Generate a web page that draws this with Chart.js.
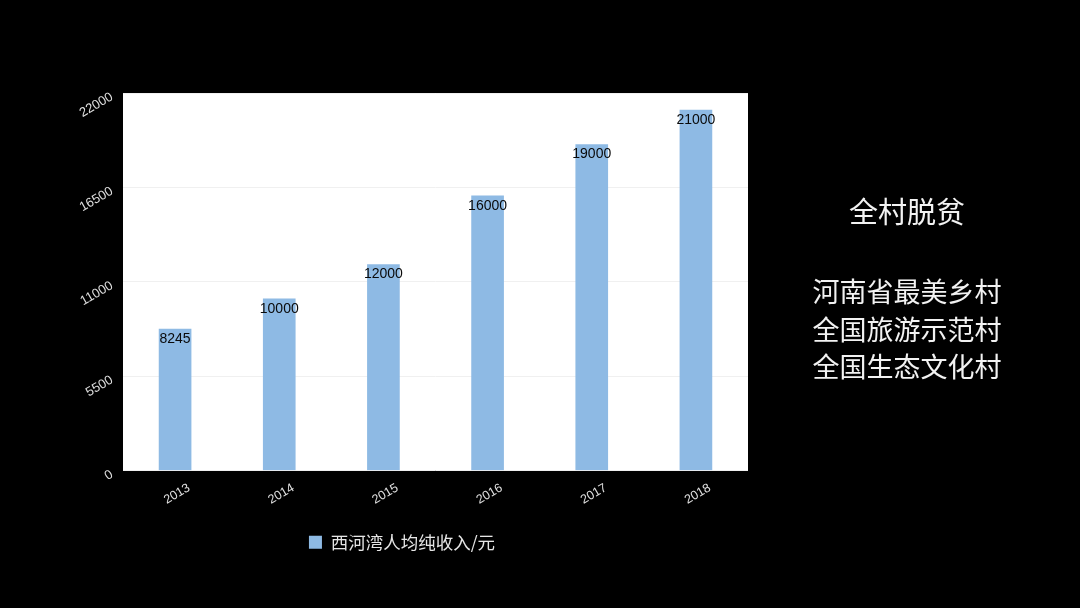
<!DOCTYPE html>
<html>
<head>
<meta charset="utf-8">
<script src="https://cdn.jsdelivr.net/npm/chart.js@4/dist/chart.umd.min.js"></script>
<style>
    html, body { margin: 0; padding: 0; background: #000; width: 1080px; height: 608px; overflow: hidden; }
    #wrap { position: absolute; left: 0; top: 0; width: 804px; height: 608px; }
    .side { position: absolute; left: 790px; width: 234px; text-align: center; color: #f2f2f2;
            font-family: "Noto Sans CJK SC", sans-serif; }
    #title { top: 191px; font-size: 29px; line-height: 38px; }
    #lines { top: 272px; font-size: 27px; line-height: 37.5px; }
</style>
</head>
<body>
<div id="wrap"><canvas id="incomeChart" width="804" height="608"></canvas></div>
<div class="side" id="title">全村脱贫</div>
<div class="side" id="lines">河南省最美乡村<br>全国旅游示范村<br>全国生态文化村</div>
<script>
    // chart data
    var years = ['2013', '2014', '2015', '2016', '2017', '2018'];
    var incomes = [8245, 10000, 12000, 16000, 19000, 21000];
    var yTicks = [0, 5500, 11000, 16500, 22000];
    var seriesName = '西河湾人均纯收入/元';

    // white plot background only inside the chart area
    var plotBg = {
        id: 'plotBg',
        beforeDraw: function(chart) {
            var a = chart.chartArea, ctx = chart.ctx;
            ctx.save();
            ctx.fillStyle = '#ffffff';
            ctx.fillRect(a.left, a.top, a.right - a.left, a.bottom - a.top);
            ctx.restore();
        }
    };

    // value labels at the top of each bar
    var valueLabels = {
        id: 'valueLabels',
        afterDatasetsDraw: function(chart) {
            var ctx = chart.ctx;
            var meta = chart.getDatasetMeta(0);
            ctx.save();
            ctx.font = '14px "Liberation Sans", Arial, sans-serif';
            ctx.fillStyle = '#0a0a0a';
            ctx.textAlign = 'center';
            ctx.textBaseline = 'top';
            meta.data.forEach(function(bar, i) {
                ctx.fillText(String(incomes[i]), bar.x, bar.y + 3);
            });
            ctx.restore();
        }
    };

    var ctx = document.getElementById('incomeChart').getContext('2d');
    new Chart(ctx, {
        type: 'bar',
        data: {
            labels: years,
            datasets: [{
                label: seriesName,
                data: incomes,
                backgroundColor: 'rgb(142,186,228)',
                barThickness: 32
            }]
        },
        options: {
            responsive: false,
            animation: false,
            devicePixelRatio: 1,
            // left padding keeps the legend centred where the reference has it
            layout: { padding: { top: 93, right: 56, left: 56, bottom: 47 } },
            plugins: {
                tooltip: { enabled: false },
                legend: {
                    position: 'bottom',
                    labels: {
                        color: '#e6e6e6',
                        boxWidth: 13,
                        boxHeight: 13,
                        padding: 10,
                        font: { family: '"Noto Sans CJK SC", sans-serif', size: 17.5 }
                    }
                }
            },
            scales: {
                x: {
                    grid: { display: false, drawTicks: false },
                    border: { display: false },
                    ticks: {
                        color: '#e0e0e0',
                        minRotation: 30,
                        maxRotation: 30,
                        labelOffset: 14,
                        padding: 10,
                        font: { family: '"Liberation Sans", Arial, sans-serif', size: 12.5 }
                    },
                    afterFit: function(scale) { scale.height = 53; }
                },
                y: {
                    min: 0,
                    max: 22000,
                    afterBuildTicks: function(scale) {
                        scale.ticks = yTicks.map(function(v) { return { value: v }; });
                    },
                    grid: { color: '#f0f0f0', drawTicks: false },
                    border: { display: false },
                    ticks: {
                        color: '#e0e0e0',
                        minRotation: 30,
                        maxRotation: 30,
                        padding: 11,
                        labelOffset: 3,
                        callback: function(v) { return String(v); },
                        font: { family: '"Liberation Sans", Arial, sans-serif', size: 13 }
                    },
                    afterFit: function(scale) { scale.width = 67; }
                }
            }
        },
        plugins: [plotBg, valueLabels]
    });
</script>
</body>
</html>
